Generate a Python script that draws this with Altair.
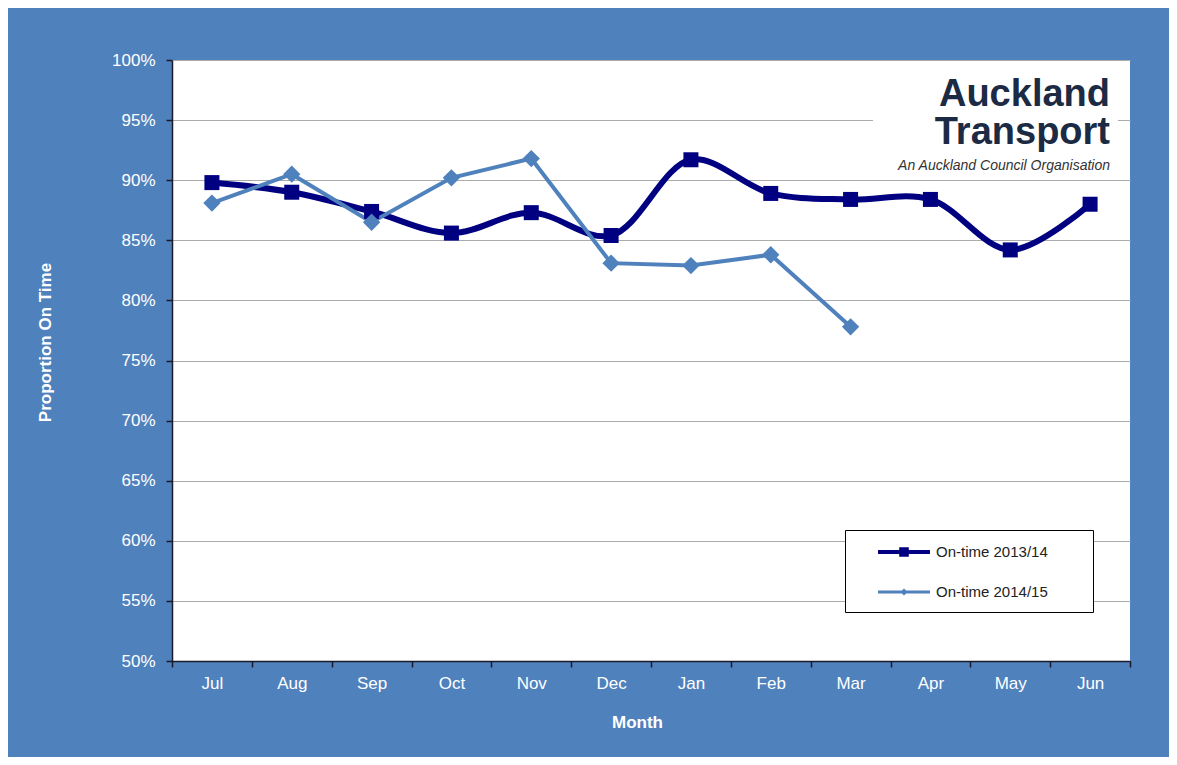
import altair as alt
import pandas as pd

# ---------------- data ----------------
months = ["Jul", "Aug", "Sep", "Oct", "Nov", "Dec", "Jan", "Feb", "Mar", "Apr", "May", "Jun"]
series = ["On-time 2013/14", "On-time 2014/15"]
ontime_2013_14 = [89.8, 89.0, 87.4, 85.6, 87.3, 85.4, 91.7, 88.9, 88.4, 88.4, 84.2, 88.0]
ontime_2014_15 = [88.1, 90.5, 86.5, 90.2, 91.8, 83.1, 82.9, 83.8, 77.8, None, None, None]
y_ticks = [50, 55, 60, 65, 70, 75, 80, 85, 90, 95, 100]
x_title = "Month"
y_title = "Proportion On Time"
logo_line1 = "Auckland"
logo_line2 = "Transport"
logo_sub = "An Auckland Council Organisation"

rows = []
for s, vals in zip(series, [ontime_2013_14, ontime_2014_15]):
    for i, v in enumerate(vals):
        if v is not None:
            rows.append({"series": s, "idx": i, "month": months[i], "value": v})
df = pd.DataFrame(rows)

# ---------------- style ----------------
FONT = "Liberation Sans, Arial, sans-serif"
BG = "#4F81BD"
NAVY = "#000080"
LIGHT = "#4F81BD"
DARK = "#1a1a2a"
LOGO = "#1c2a44"

W, H = 958, 601
band = W / len(months)

x_bounds = [i - 0.5 for i in range(len(months) + 1)]
month_arr = "[" + ",".join("'%s'" % m for m in months) + "]"

x_enc = alt.X(
    "idx:Q",
    scale=alt.Scale(domain=[-0.5, len(months) - 0.5], nice=False, zero=False),
    axis=alt.Axis(
        values=x_bounds,
        labelExpr=month_arr + "[round(datum.value + 0.5)] || ''",
        labelOffset=band / 2,
        labelAlign="center",
        labelFlush=False,
        labelOverlap=False,
        grid=False,
        tickSize=6,
        tickColor=DARK,
        tickWidth=1.5,
        domainColor=DARK,
        domainWidth=1.5,
        labelColor="white",
        labelFont=FONT,
        labelFontSize=17,
        labelPadding=8,
        title=x_title,
        titleColor="white",
        titleFont=FONT,
        titleFontSize=17,
        titleFontWeight="bold",
        titleX=465,
        titleY=61,
        titleBaseline="middle",
    ),
)
y_enc = alt.Y(
    "value:Q",
    scale=alt.Scale(domain=[50, 100], nice=False, zero=False),
    axis=alt.Axis(
        values=y_ticks,
        labelExpr="datum.value + '%'",
        labelFlush=False,
        grid=True,
        gridColor="#ababab",
        gridWidth=1,
        tickSize=6,
        tickColor=DARK,
        tickWidth=1.5,
        domainColor=DARK,
        domainWidth=1.5,
        labelColor="white",
        labelFont=FONT,
        labelFontSize=17,
        labelPadding=11,
        title=y_title,
        titleColor="white",
        titleFont=FONT,
        titleFontSize=17,
        titleFontWeight="bold",
        titleX=-118,
        titleY=282,
    ),
)

# legend symbols: line + marker as custom paths (unit = half of sqrt(symbolSize))
path_a = "M1.1,-0.2H6.3V0.2H1.1Z M3.22,-0.48H4.18V0.48H3.22Z"
path_b = "M1.1,-0.14H6.3V0.14H1.1Z M3.7,-0.36L4.06,0L3.7,0.36L3.34,0Z"

leg = alt.Legend(
    orient="none",
    legendX=673,
    legendY=470,
    title=None,
    padding=12,
    strokeColor="black",
    fillColor="white",
    symbolSize=400,
    symbolStrokeWidth=0,
    labelFont=FONT,
    labelFontSize=15,
    labelColor="#222222",
    labelOffset=59,
    rowPadding=22,
    labelLimit=400,
    labelExpr="datum.label + '\u2800\u2800\u2800'",
)

base = alt.Chart(df)

line_a = base.transform_filter(alt.datum.series == series[0]).mark_line(
    interpolate="catmull-rom", strokeWidth=6, color=NAVY
).encode(x=x_enc, y=y_enc)

line_b = base.transform_filter(alt.datum.series == series[1]).mark_line(
    strokeWidth=4, color=LIGHT
).encode(x=x_enc, y=y_enc)

pts_a = base.transform_filter(alt.datum.series == series[0]).mark_point(
    shape="square", filled=True, size=225, opacity=1, color=NAVY
).encode(x=x_enc, y=y_enc)

pts_b = base.transform_filter(alt.datum.series == series[1]).mark_point(
    shape="diamond", filled=True, size=300, opacity=1, color=LIGHT
).encode(x=x_enc, y=y_enc)

legend_layer = base.transform_filter("false").mark_point(
    filled=True, opacity=1, size=400
).encode(
    x=x_enc,
    y=y_enc,
    fill=alt.Fill("series:N", scale=alt.Scale(domain=series, range=[NAVY, LIGHT]), legend=leg),
    shape=alt.Shape("series:N", scale=alt.Scale(domain=series, range=[path_a, path_b]), legend=leg),
)

ann = alt.Data(values=[{"a": 1}])
logo_box = alt.Chart(ann).mark_rect(color="white").encode(
    x=alt.value(701), x2=alt.value(946), y=alt.value(2), y2=alt.value(115)
)
logo_t1 = alt.Chart(ann).mark_text(
    text=logo_line1, align="right", baseline="alphabetic", font=FONT,
    fontSize=38, fontWeight="bold", color=LOGO
).encode(x=alt.value(938), y=alt.value(46))
logo_t2 = alt.Chart(ann).mark_text(
    text=logo_line2, align="right", baseline="alphabetic", font=FONT,
    fontSize=38, fontWeight="bold", color=LOGO
).encode(x=alt.value(938), y=alt.value(84))
logo_t3 = alt.Chart(ann).mark_text(
    text=logo_sub, align="right", baseline="alphabetic", font=FONT,
    fontSize=14, fontStyle="italic", color="#333333"
).encode(x=alt.value(938), y=alt.value(110))

chart = alt.layer(
    logo_box, line_a, line_b, pts_a, pts_b, logo_t1, logo_t2, logo_t3, legend_layer
).properties(
    width=W,
    height=H,
    autosize=alt.AutoSizeParams(type="none"),
    padding={"left": 164, "top": 52, "right": 39, "bottom": 96},
    background=BG,
).configure_view(fill="white", strokeWidth=0)

chart.save("out.html", embed_options={"renderer": "svg", "actions": False})
